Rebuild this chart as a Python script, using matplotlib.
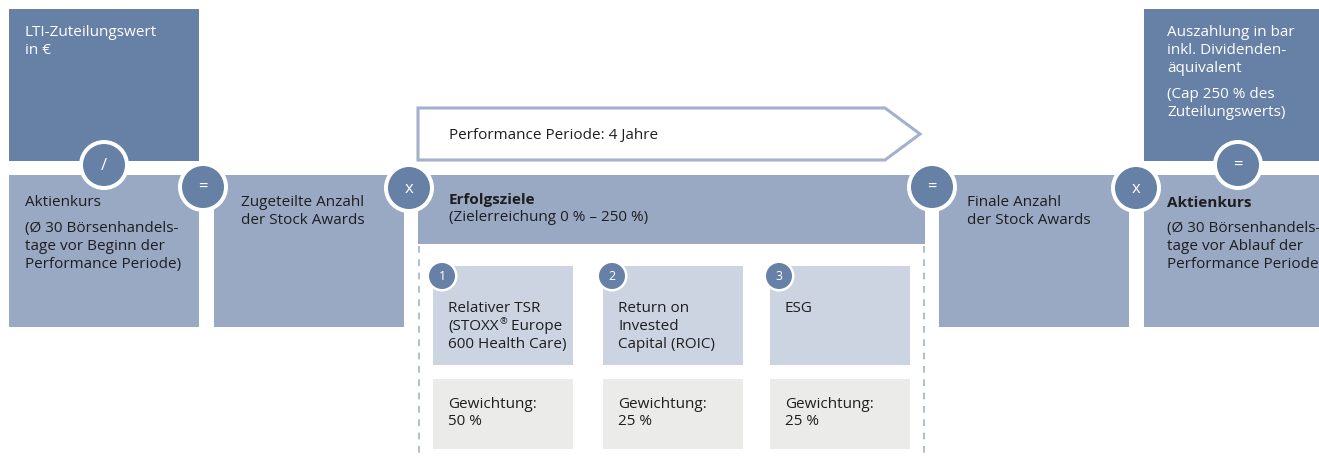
import matplotlib
matplotlib.use("Agg")
import matplotlib.pyplot as plt
from matplotlib.patches import Rectangle, Circle, Polygon
from matplotlib.lines import Line2D

plt.rcParams['font.family'] = ['Open Sans', 'DejaVu Sans']

DARK = '#6680a6'
MID = '#99a9c4'
LIGHT = '#ccd4e2'
GREY = '#ebebe9'
ARROW_EDGE = '#a3b1ca'
TXT = '#1e1e1e'

# ---- content ----
top_left_text = ["LTI-Zuteilungswert", "in €"]
aktien_begin = ["Aktienkurs", "(Ø 30 Börsenhandels-", "tage vor Beginn der", "Performance Periode)"]
zugeteilt = ["Zugeteilte Anzahl", "der Stock Awards"]
period_label = "Performance Periode: 4 Jahre"
erfolg_title = "Erfolgsziele"
erfolg_sub = "(Zielerreichung 0 % – 250 %)"
goal_numbers = ["1", "2", "3"]
goal_names = [["Relativer TSR", "(STOXX® Europe", "600 Health Care)"],
              ["Return on", "Invested", "Capital (ROIC)"],
              ["ESG"]]
goal_weights = ["50 %", "25 %", "25 %"]
weight_label = "Gewichtung:"
finale = ["Finale Anzahl", "der Stock Awards"]
aktien_end_title = "Aktienkurs"
aktien_end = ["(Ø 30 Börsenhandels-", "tage vor Ablauf der", "Performance Periode)"]
top_right_a = ["Auszahlung in bar", "inkl. Dividenden-", "äquivalent"]
top_right_b = ["(Cap 250 % des", "Zuteilungswerts)"]
operators = ["/", "=", "x", "=", "x", "="]

W, H = 1319, 460
fig = plt.figure(figsize=(W / 100, H / 100), dpi=100)
ax = fig.add_axes([0, 0, 1, 1])
ax.set_xlim(0, W)
ax.set_ylim(H, 0)
ax.axis('off')
renderer = fig.canvas.get_renderer()

FS = 11
LH = 18


def rect(x0, y0, x1, y1, color, z=1):
    ax.add_patch(Rectangle((x0, y0), x1 - x0, y1 - y0, facecolor=color, edgecolor='none', zorder=z))


def text_with_reg(x, y, s, color=TXT):
    """Draw a line, rendering '®' as a small raised mark."""
    if '®' not in s:
        ax.text(x, y, s, fontsize=FS, color=color, ha='left', va='center', zorder=10)
        return
    pre, post = s.split('®', 1)
    t1 = ax.text(x, y, pre, fontsize=FS, color=color, ha='left', va='center', zorder=10)
    bb = t1.get_window_extent(renderer)
    x2 = x + bb.width
    t2 = ax.text(x2 + 0.5, y - 5, '®', fontsize=FS * 0.6, color=color, ha='left', va='center', zorder=10)
    bb2 = t2.get_window_extent(renderer)
    ax.text(x2 + 0.5 + bb2.width, y, post, fontsize=FS, color=color, ha='left', va='center', zorder=10)


def lines(x, y, items, color=TXT, weight='normal', lh=LH):
    for i, t in enumerate(items):
        if weight == 'normal':
            text_with_reg(x, y + i * lh, t, color=color)
        else:
            ax.text(x, y + i * lh, t, fontsize=FS, color=color, ha='left', va='center',
                    fontweight=weight, zorder=10)


def op_circle(cx, cy, sym, r=21, ring=4, fs=12):
    ax.add_patch(Circle((cx, cy), r + ring, facecolor='white', edgecolor='none', zorder=6))
    ax.add_patch(Circle((cx, cy), r, facecolor=DARK, edgecolor='none', zorder=7))
    ax.text(cx, cy, sym, fontsize=fs, color='white', ha='center', va='center', zorder=8)


# left column
rect(9, 10, 199, 162, DARK)
rect(9, 176, 199, 328, MID)
rect(214, 176, 404, 328, MID)
lines(25, 33, top_left_text, color='white')
lines(25, 203, aktien_begin[:1])
lines(25, 229, aktien_begin[1:])
lines(241, 203, zugeteilt)

# performance period arrow
ax.add_patch(Polygon([(418, 109), (885, 109), (920, 135), (885, 161), (418, 161)],
                     closed=True, facecolor='white', edgecolor=ARROW_EDGE, linewidth=2.2, zorder=2))
ax.text(449, 136, period_label, fontsize=FS, color=TXT, ha='left', va='center', zorder=10)

# Erfolgsziele
rect(418, 176, 925, 245, MID)
ax.text(449, 200, erfolg_title, fontsize=FS, color=TXT, ha='left', va='center', fontweight='bold', zorder=10)
ax.text(449, 218, erfolg_sub, fontsize=FS, color=TXT, ha='left', va='center', zorder=10)

# dashed frame lines
for xd in (418.5, 924):
    ax.add_line(Line2D([xd, xd], [247, 460], color=ARROW_EDGE, linewidth=1.2,
                       linestyle=(0, (4, 4)), zorder=1))

# goal boxes
goal_x = [433, 603, 770]
for gx, num, names, wt in zip(goal_x, goal_numbers, goal_names, goal_weights):
    rect(gx, 267, gx + 140, 366, LIGHT)
    rect(gx, 380, gx + 140, 450, GREY)
    op_circle(gx + 9, 277, num, r=13, ring=2.5, fs=9)
    lines(gx + 15, 309, names)
    lines(gx + 15, 405, [weight_label, wt], lh=17)

# right side
rect(939, 176, 1129, 328, MID)
lines(967, 203, finale)
rect(1144, 10, 1319, 162, DARK)
rect(1144, 176, 1319, 328, MID)
lines(1167, 33, top_right_a, color='white')
lines(1167, 95, top_right_b, color='white')
ax.text(1167, 203, aktien_end_title, fontsize=FS, color=TXT, ha='left', va='center', fontweight='bold', zorder=10)
lines(1167, 229, aktien_end)

# operator circles
op_pos = [(104, 166), (203, 188), (409, 189), (932, 188), (1136, 189), (1238, 166)]
for (cx, cy), s in zip(op_pos, operators):
    op_circle(cx, cy, s)

fig.savefig("out.png", dpi=100)
